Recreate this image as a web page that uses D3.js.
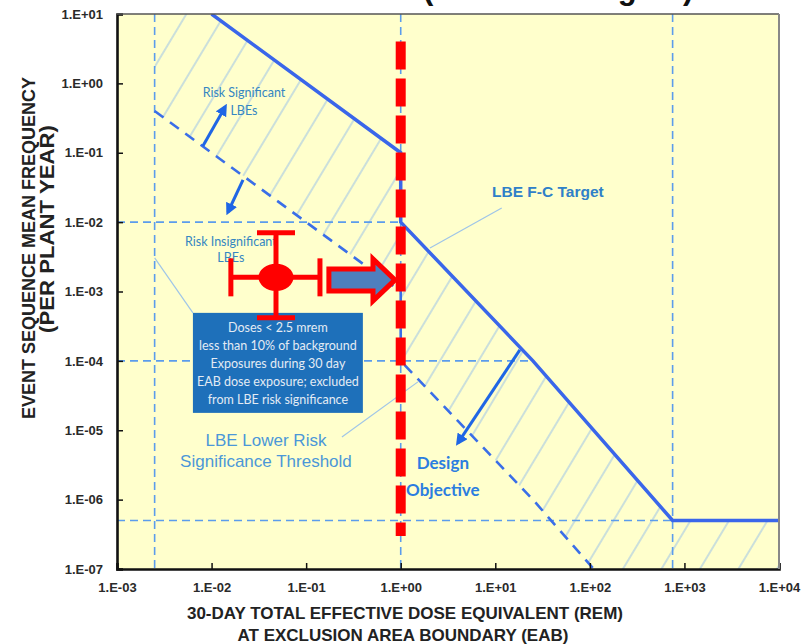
<!DOCTYPE html>
<html>
<head>
<meta charset="utf-8">
<script src="https://cdn.jsdelivr.net/npm/d3@7"></script>
<style>
  body { margin: 0; background: #fff; }
  svg { display: block; }
</style>
</head>
<body>
<script>
const W = 805, H = 644;
const margin = { top: 14, right: 26, bottom: 75, left: 117 };

// axis ticks
const xTickValues = [1e-3, 1e-2, 1e-1, 1e0, 1e1, 1e2, 1e3, 1e4];
const xTickLabels = ["1.E-03", "1.E-02", "1.E-01", "1.E+00", "1.E+01", "1.E+02", "1.E+03", "1.E+04"];
const yTickValues = [1e-7, 1e-6, 1e-5, 1e-4, 1e-3, 1e-2, 1e-1, 1e0, 1e1];
const yTickLabels = ["1.E-07", "1.E-06", "1.E-05", "1.E-04", "1.E-03", "1.E-02", "1.E-01", "1.E+00", "1.E+01"];

// LBE F-C target (solid)
const fcDose = [1e-2, 1, 1, 25, 750, 1e4];
const fcFreq = [10, 1e-1, 1e-2, 1e-4, 5e-7, 5e-7];

// LBE lower risk significance threshold (dashed)
const lrstDose = [2.5e-3, 1, 1, 25, 750];
const lrstFreq = [0.4, 1e-3, 1e-4, 1e-6, 5e-9];

// reference dashed lines
const refDose = [2.5e-3, 1, 750];
const refFreq = [1e-2, 1e-4, 5e-7];
const refFreqEnd = [1, 25, 750];

// red overlay: 1 rem line, event estimate with uncertainty
const redLineDose = 1;
const redLineFreq = [4, 3e-7];
const estDose = 0.048, estFreq = 1.6e-3;
const estDoseRange = [0.016, 0.14];
const estFreqRange = [4.2e-4, 7e-3];
const shiftDose = [0.174, 0.87];
const shiftFreq = 1.47e-3;

const x = d3.scaleLog().domain([1e-3, 1e4]).range([margin.left, W - margin.right]);
const y = d3.scaleLog().domain([1e-7, 1e1]).range([H - margin.bottom, margin.top]);
const [xL, xR] = x.range();
const [yB, yT] = y.range();

const svg = d3.select("body").append("svg")
  .attr("width", W).attr("height", H)
  .style("font-family", "'Liberation Sans', Arial, sans-serif");

const defs = svg.append("defs");
defs.append("clipPath").attr("id", "plotClip")
  .append("rect").attr("x", xL).attr("y", yT).attr("width", xR - xL).attr("height", yB - yT);

const pat = defs.append("pattern").attr("id", "hatch")
  .attr("patternUnits", "userSpaceOnUse")
  .attr("width", 33).attr("height", 40)
  .attr("patternTransform", "rotate(31)");
pat.append("line").attr("x1", 2).attr("x2", 2).attr("y1", 0).attr("y2", 40)
  .attr("stroke", "#9fc5e8").attr("stroke-width", 1.1);

defs.append("marker").attr("id", "ah")
  .attr("viewBox", "0 0 10 10").attr("refX", 7).attr("refY", 5)
  .attr("markerWidth", 4).attr("markerHeight", 4).attr("orient", "auto")
  .append("path").attr("d", "M0,0L10,5L0,10z").attr("fill", "#1f66e5");

// title sits above the picture; only its descenders show
svg.append("text").attr("x", 423).attr("y", -1)
  .attr("font-size", 31).attr("font-weight", "bold").attr("fill", "#111")
  .text("(LBE Risk Region)");

// plot background
svg.append("rect").attr("x", xL).attr("y", yT).attr("width", xR - xL).attr("height", yB - yT)
  .attr("fill", "#ffffcc");

const plot = svg.append("g").attr("clip-path", "url(#plotClip)");
const line = d3.line().x(d => x(d[0])).y(d => y(d[1]));

// hatched region between the two curves
const fcPts = fcDose.map((d, i) => [d, fcFreq[i]]);
const lrstPts = lrstDose.map((d, i) => [d, lrstFreq[i]]);
const hatchPts = [[lrstDose[0], y.domain()[1]], ...fcPts,
  [x.domain()[1], lrstFreq[lrstFreq.length - 1]], ...lrstPts.slice().reverse()];
plot.append("path").attr("d", line(hatchPts) + "Z").attr("fill", "url(#hatch)");

// reference dashed lines
refDose.forEach(d => {
  plot.append("line").attr("x1", x(d)).attr("x2", x(d)).attr("y1", yT).attr("y2", yB)
    .attr("stroke", "#5b9cec").attr("stroke-width", 1.6).attr("stroke-dasharray", "8,5");
});
refFreq.forEach((f, i) => {
  plot.append("line").attr("x1", xL).attr("x2", x(refFreqEnd[i])).attr("y1", y(f)).attr("y2", y(f))
    .attr("stroke", "#5b9cec").attr("stroke-width", 1.6).attr("stroke-dasharray", "8,5");
});

// threshold and target curves
plot.append("path").attr("d", line(lrstPts)).attr("fill", "none")
  .attr("stroke", "#3a6ee8").attr("stroke-width", 2.6).attr("stroke-dasharray", "11,8");
plot.append("path").attr("d", line(fcPts)).attr("fill", "none")
  .attr("stroke", "#3a66ea").attr("stroke-width", 3.5);

// leader lines
const leaders = [
  [[2.5e-3, 3.05e-3], [6.35e-3, 4.92e-4]],
  [[11.7, 0.016], [2.04, 4.25e-3]],
  [[0.239, 8.0e-6], [1.52, 4.98e-5]]
];
leaders.forEach(l => {
  plot.append("path").attr("d", line(l)).attr("fill", "none")
    .attr("stroke", "#9fc5e8").attr("stroke-width", 1.2);
});

// direction arrows
const arrows = [
  [[8.1e-3, 0.125], [0.0139, 0.457]],
  [[0.0215, 0.0405], [0.0149, 0.0140]],
  [[18.2, 1.44e-4], [4.03, 6.58e-6]]
];
arrows.forEach(a => {
  plot.append("path").attr("d", line(a)).attr("fill", "none")
    .attr("stroke", "#1f66e5").attr("stroke-width", 3).attr("marker-end", "url(#ah)");
});

// annotations
const notes = [
  { dose: 0.022, freq: 0.637, lines: ["Risk Significant", "LBEs"], gap: 18, font: "Lato", size: 12.5, weight: "normal", color: "#3586c2" },
  { dose: 0.016, freq: 4.54e-3, lines: ["Risk Insignificant", "LBEs"], gap: 16, font: "Lato", size: 12.5, weight: "normal", color: "#3586c2" },
  { dose: 36.0, freq: 0.0231, lines: ["LBE F-C Target"], gap: 0, font: "'Liberation Sans'", size: 15.5, weight: "bold", color: "#2f80c8" },
  { dose: 0.0376, freq: 5.96e-6, lines: ["LBE Lower Risk", "Significance Threshold"], gap: 21, font: "'Liberation Sans'", size: 17, weight: "normal", color: "#4b97d8" },
  { dose: 2.79, freq: 2.78e-6, lines: ["Design", "Objective"], gap: 27, font: "Lato", size: 17, weight: "bold", color: "#2b7de0" }
];
notes.forEach(n => {
  const t = plot.append("text").attr("text-anchor", "middle")
    .attr("font-family", n.font).attr("font-size", n.size)
    .attr("font-weight", n.weight).attr("fill", n.color);
  n.lines.forEach((s, i) => {
    t.append("tspan").attr("x", x(n.dose)).attr("y", y(n.freq) + i * n.gap).text(s);
  });
});

// blue info box
const boxDose = [6.35e-3, 0.398], boxFreq = [1.78e-5, 4.92e-4];
const boxLines = ["Doses < 2.5 mrem", "less than 10% of background", "Exposures during 30 day",
  "EAB dose exposure; excluded", "from LBE risk significance"];
plot.append("rect").attr("x", x(boxDose[0])).attr("y", y(boxFreq[1]))
  .attr("width", x(boxDose[1]) - x(boxDose[0])).attr("height", y(boxFreq[0]) - y(boxFreq[1]))
  .attr("fill", "#1e70ba");
const bt = plot.append("text").attr("text-anchor", "middle").attr("font-family", "Lato")
  .attr("font-size", 12.5).attr("fill", "#e3ebf4");
boxLines.forEach((s, i) => {
  bt.append("tspan").attr("x", x(0.0503)).attr("y", y(2.62e-4) + i * 18).text(s);
});

// red dashed 1 rem line
svg.append("line").attr("x1", x(redLineDose)).attr("x2", x(redLineDose))
  .attr("y1", y(redLineFreq[0])).attr("y2", y(redLineFreq[1]))
  .attr("stroke", "#ff0000").attr("stroke-width", 10).attr("stroke-dasharray", "28,9");

// red estimate with uncertainty bars
const red = svg.append("g").attr("stroke", "#ff0000").attr("stroke-width", 5).attr("fill", "#ff0000");
const ex = x(estDose), ey = y(estFreq);
red.append("line").attr("x1", x(estDoseRange[0])).attr("x2", x(estDoseRange[1])).attr("y1", ey).attr("y2", ey);
red.append("line").attr("x1", ex).attr("x2", ex).attr("y1", y(estFreqRange[0])).attr("y2", y(estFreqRange[1]));
estDoseRange.forEach(d => red.append("line").attr("x1", x(d)).attr("x2", x(d)).attr("y1", ey - 19).attr("y2", ey + 19));
estFreqRange.forEach(f => red.append("line").attr("x1", ex - 19).attr("x2", ex + 19).attr("y1", y(f)).attr("y2", y(f)));
red.append("ellipse").attr("cx", ex).attr("cy", ey).attr("rx", 17.5).attr("ry", 13.5).attr("stroke", "none");

// block arrow pointing to 1 rem
const sx = x(shiftDose[0]), tx = x(shiftDose[1]), cy = y(shiftFreq);
const hb = tx - 22;
svg.append("path")
  .attr("d", `M${sx},${cy - 11}L${hb},${cy - 11}L${hb},${cy - 21}L${tx},${cy}L${hb},${cy + 21}L${hb},${cy + 11}L${sx},${cy + 11}Z`)
  .attr("fill", "#4e7fbe").attr("stroke", "#ff0000").attr("stroke-width", 5).attr("stroke-linejoin", "miter");

// axes
const xMinor = x.ticks().filter(v => !xTickValues.some(t => Math.abs(t - v) / t < 1e-9));
const yMinor = y.ticks().filter(v => !yTickValues.some(t => Math.abs(t - v) / t < 1e-9));

const xAxisG = svg.append("g").attr("transform", `translate(0,${yB})`);
xAxisG.call(d3.axisBottom(x).tickValues(xMinor).tickSize(-3).tickFormat(""));
xAxisG.call(d3.axisBottom(x).tickValues(xTickValues).tickSize(-6).tickPadding(14)
  .tickFormat((d, i) => xTickLabels[i]));
const yAxisG = svg.append("g").attr("transform", `translate(${xL},0)`);
yAxisG.call(d3.axisLeft(y).tickValues(yMinor).tickSize(-3).tickFormat(""));
yAxisG.call(d3.axisLeft(y).tickValues(yTickValues).tickSize(-6).tickPadding(14)
  .tickFormat((d, i) => yTickLabels[i]));

svg.selectAll(".tick line").attr("stroke", "#111").attr("stroke-width", 1.5);
svg.selectAll(".domain").attr("stroke", "#111").attr("stroke-width", 2.6);
svg.selectAll(".tick text").attr("font-family", "'Liberation Sans', Arial, sans-serif")
  .attr("font-size", 13).attr("font-weight", "bold").attr("fill", "#2a2a2a");

// top and right frame
svg.append("line").attr("x1", xL).attr("x2", xR).attr("y1", yT).attr("y2", yT)
  .attr("stroke", "#555").attr("stroke-width", 1.5);
svg.append("line").attr("x1", xR).attr("x2", xR).attr("y1", yT).attr("y2", yB)
  .attr("stroke", "#888").attr("stroke-width", 2);

// axis titles
const yTitle = svg.append("g").attr("font-weight", "bold")
  .attr("fill", "#222").attr("text-anchor", "middle");
yTitle.append("text").attr("transform", "translate(35,248) rotate(-90)")
  .attr("font-size", 18)
  .text("EVENT SEQUENCE MEAN FREQUENCY");
yTitle.append("text").attr("transform", "translate(54,229) rotate(-90)")
  .attr("font-size", 19.5).attr("textLength", 208).attr("lengthAdjust", "spacingAndGlyphs")
  .text("(PER PLANT YEAR)");

const xTitle = svg.append("g").attr("font-weight", "bold").attr("font-size", 17)
  .attr("fill", "#222").attr("text-anchor", "middle");
xTitle.append("text").attr("x", 405).attr("y", 619).text("30-DAY TOTAL EFFECTIVE DOSE EQUIVALENT (REM)");
xTitle.append("text").attr("x", 403).attr("y", 641).text("AT EXCLUSION AREA BOUNDARY (EAB)");
</script>
</body>
</html>
